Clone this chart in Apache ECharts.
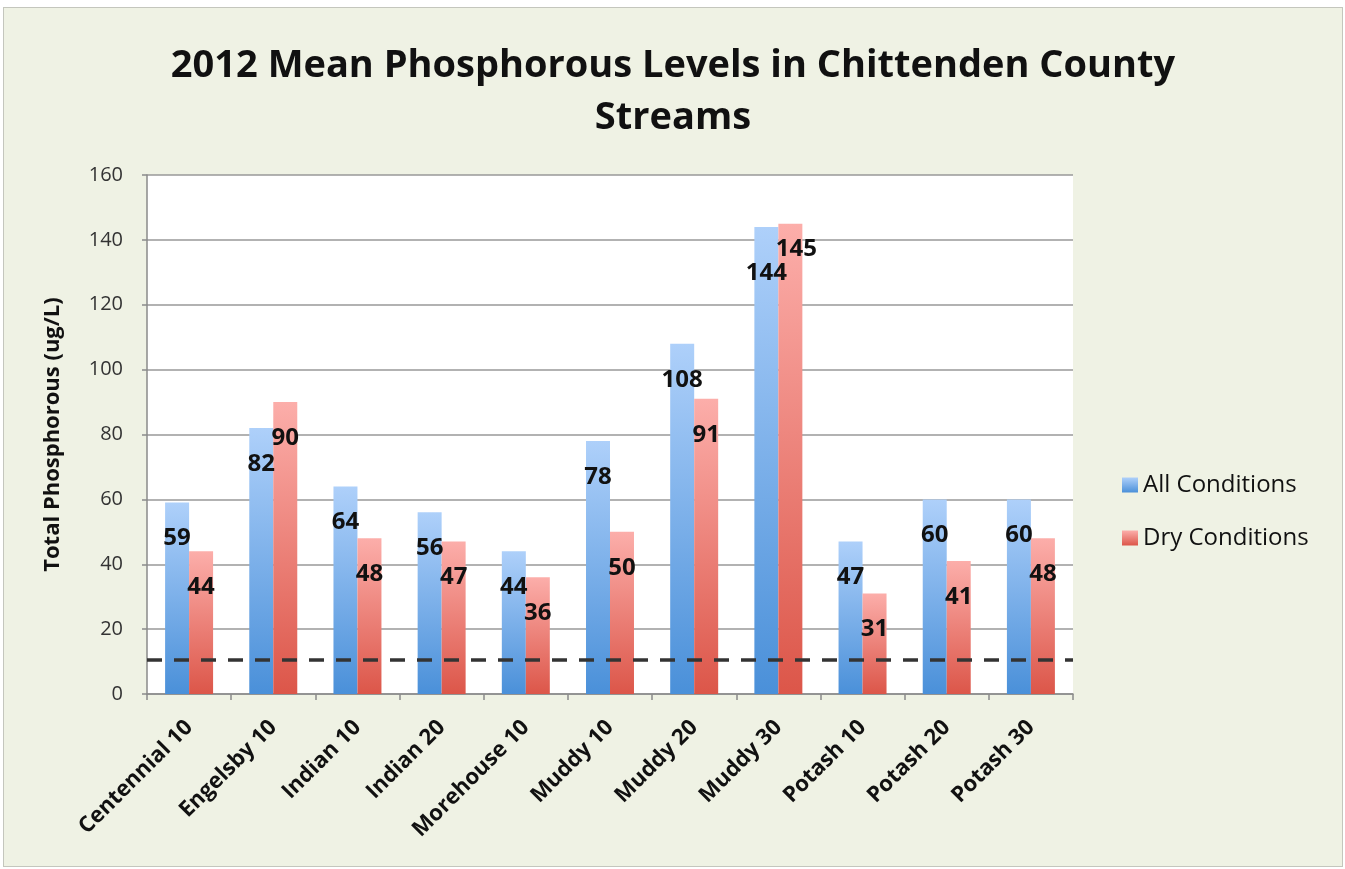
<!DOCTYPE html>
<html>
<head>
<meta charset="utf-8">
<script src="https://cdn.jsdelivr.net/npm/echarts@6/dist/echarts.min.js"></script>
<style>
    html, body { margin: 0; padding: 0; background: #fff; }
    #frame {
        position: absolute; left: 3px; top: 7px; width: 1338px; height: 858px;
        border: 1px solid #c4c6bd; background: #eff2e4;
    }
    #chart { width: 1338px; height: 858px; }
</style>
</head>
<body>
<div id="frame"><div id="chart"></div></div>
<script>
// 数据
var sites = ['Centennial 10', 'Engelsby 10', 'Indian 10', 'Indian 20', 'Morehouse 10',
    'Muddy 10', 'Muddy 20', 'Muddy 30', 'Potash 10', 'Potash 20', 'Potash 30'];
var allConditions = [59, 82, 64, 56, 44, 78, 108, 144, 47, 60, 60];
var dryConditions = [44, 90, 48, 47, 36, 50, 91, 145, 31, 41, 48];
var threshold = 10.5;
var yTicks = [0, 20, 40, 60, 80, 100, 120, 140, 160];

var blueFill = new echarts.graphic.LinearGradient(0, 0, 0, 1, [
    { offset: 0, color: '#aed0fa' },
    { offset: 1, color: '#4a90d9' }
]);
var redFill = new echarts.graphic.LinearGradient(0, 0, 0, 1, [
    { offset: 0, color: '#fcaeaa' },
    { offset: 1, color: '#dc5649' }
]);

var barLabel = {
    show: true,
    position: 'insideTop',
    distance: 24,
    color: '#111',
    fontFamily: 'Open Sans',
    fontWeight: 'bold',
    fontSize: 24
};

// Muddy 30 的两个标签在原图里被手动错开
function withLabels(values, moved) {
    return values.map(function (v, i) {
        if (moved[i]) {
            return { value: v, label: moved[i] };
        }
        return v;
    });
}

var chart = echarts.init(document.getElementById('chart'));
chart.setOption({
    animation: false,
    textStyle: { fontFamily: 'Open Sans' },
    title: {
        text: '2012 Mean Phosphorous Levels in Chittenden County\nStreams',
        left: 'center',
        top: 32,
        padding: 0,
        textStyle: {
            fontFamily: 'Open Sans',
            fontWeight: 'bold',
            fontSize: 38,
            lineHeight: 52,
            color: '#111'
        }
    },
    legend: {
        orient: 'vertical',
        left: 1118,
        top: 465,
        padding: 0,
        itemWidth: 16,
        itemHeight: 15,
        itemGap: 29,
        icon: 'rect',
        textStyle: { fontSize: 24, lineHeight: 24, color: '#111', padding: [0, 0, 0, 0] },
        data: [
            { name: 'All Conditions', itemStyle: { color: blueFill } },
            { name: 'Dry Conditions', itemStyle: { color: redFill } }
        ]
    },
    grid: {
        left: 143,
        right: 269,
        top: 167,
        bottom: 172
    },
    xAxis: {
        type: 'category',
        data: sites,
        splitLine: { show: false },
        axisLine: { lineStyle: { color: '#8a8a8a', width: 1.5 } },
        axisTick: { show: true, length: 6, lineStyle: { color: '#8a8a8a', width: 1.5 } },
        axisLabel: {
            rotate: 45,
            margin: 30,
            interval: 0,
            fontSize: 22,
            fontWeight: 'bold',
            color: '#111'
        }
    },
    yAxis: {
        type: 'value',
        min: yTicks[0],
        max: yTicks[yTicks.length - 1],
        interval: 20,
        name: 'Total Phosphorous (ug/L)',
        nameLocation: 'middle',
        nameGap: 83,
        nameTextStyle: { fontSize: 22, fontWeight: 'bold', color: '#111' },
        axisLine: { show: true, lineStyle: { color: '#8a8a8a', width: 1.5 } },
        axisTick: { show: true, length: 5, lineStyle: { color: '#8a8a8a', width: 1.5 } },
        axisLabel: { fontSize: 20, color: '#333', margin: 24 },
        splitLine: { lineStyle: { color: '#999', width: 1.5 } },
        splitArea: { show: true, areaStyle: { color: ['#fff'] } }
    },
    series: [
        {
            name: 'All Conditions',
            type: 'bar',
            data: withLabels(allConditions, { 7: { distance: 34 } }),
            barGap: '0%',
            barCategoryGap: '43%',
            itemStyle: { color: blueFill },
            label: barLabel,
            markLine: {
                silent: true,
                symbol: 'none',
                z: 10,
                label: { show: false },
                lineStyle: { color: '#333', width: 3.5, type: [15, 12] },
                data: [{ yAxis: threshold }]
            }
        },
        {
            name: 'Dry Conditions',
            type: 'bar',
            data: withLabels(dryConditions, { 7: { distance: 13, offset: [6, 0] } }),
            itemStyle: { color: redFill },
            label: barLabel
        }
    ]
});
</script>
</body>
</html>
